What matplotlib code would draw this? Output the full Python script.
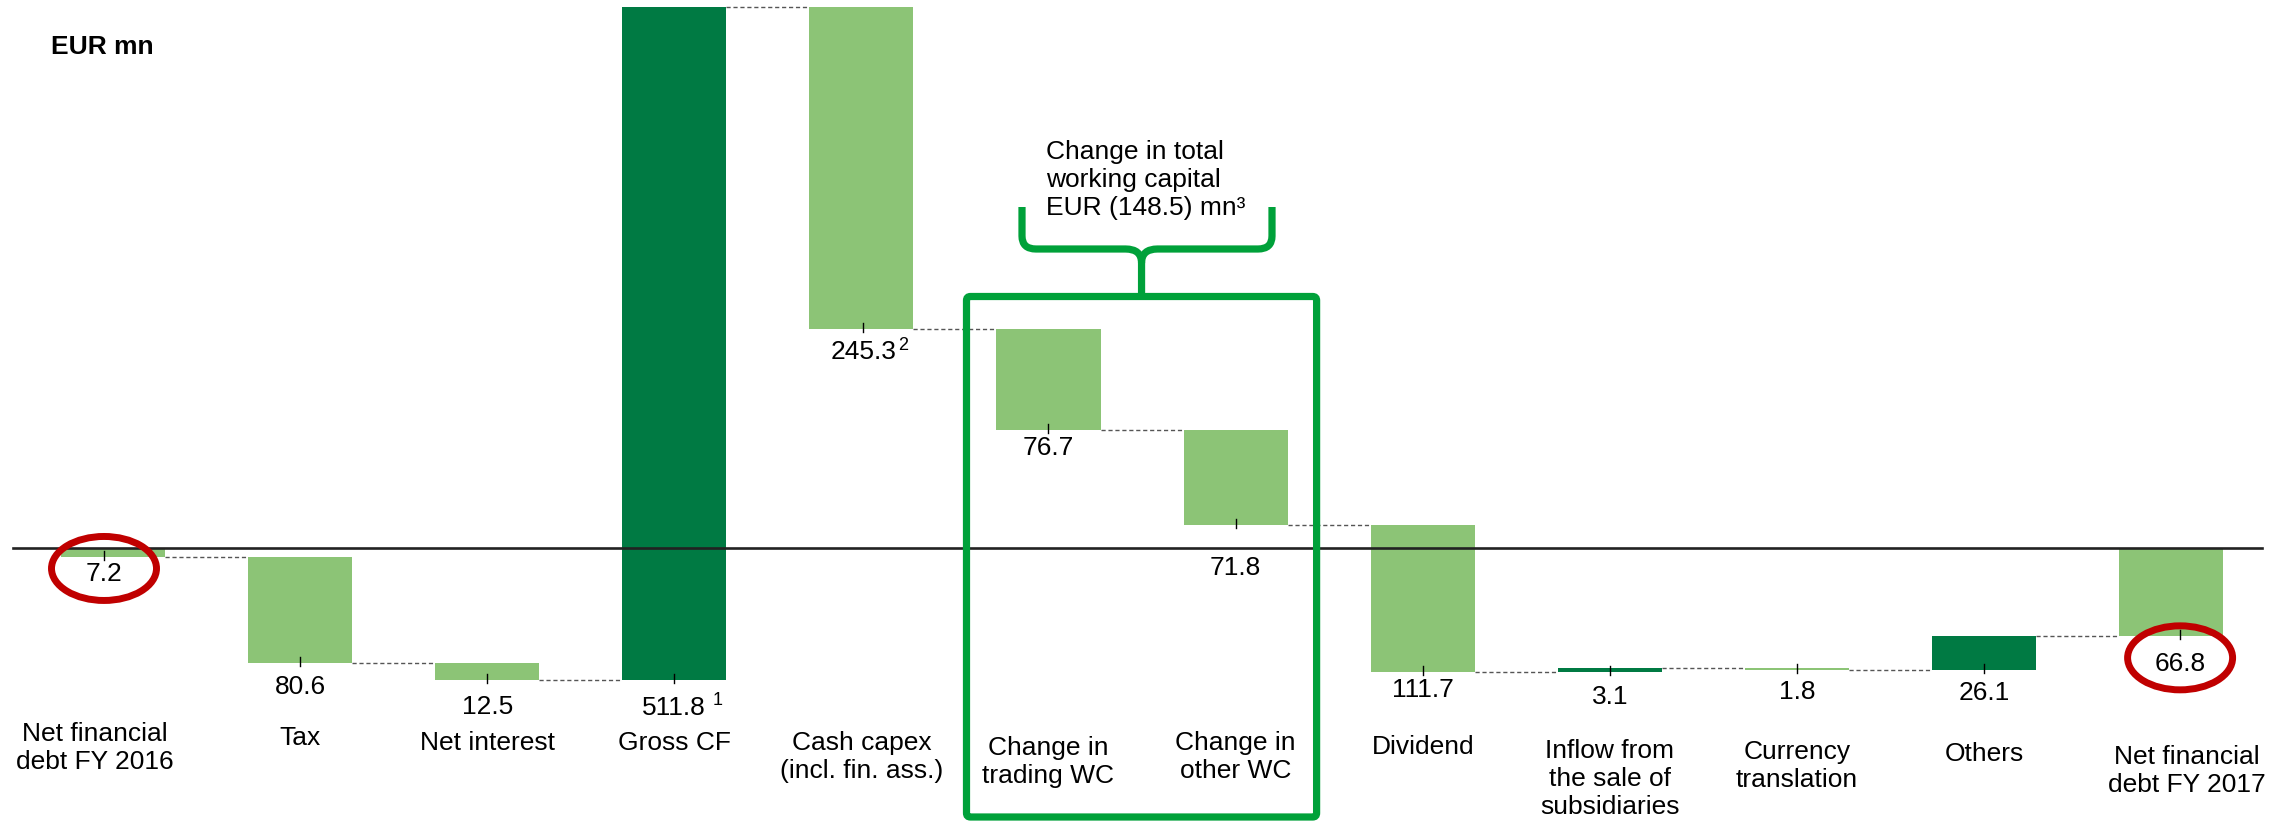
import matplotlib
matplotlib.use('Agg')
import matplotlib.pyplot as plt
import numpy as np
from matplotlib.patches import Ellipse, FancyBboxPatch, PathPatch
from matplotlib.path import Path

plt.rcParams['font.family'] = ['Liberation Sans', 'DejaVu Sans']

# ---------------- data ----------------
categories = ["Net financial\ndebt FY 2016", "Tax", "Net interest", "Gross CF",
              "Cash capex\n(incl. fin. ass.)", "Change in\ntrading WC", "Change in\nother WC",
              "Dividend", "Inflow from\nthe sale of\nsubsidiaries", "Currency\ntranslation",
              "Others", "Net financial\ndebt FY 2017"]
values = [-7.2, -80.6, -12.5, 511.8, -245.3, -76.7, -71.8, -111.7, 3.1, -1.8, 26.1, -66.8]
kinds = ["total", "delta", "delta", "delta", "delta", "delta", "delta",
         "delta", "delta", "delta", "delta", "total"]
value_labels = ["7.2", "80.6", "12.5", "511.8", "245.3", "76.7", "71.8",
                "111.7", "3.1", "1.8", "26.1", "66.8"]
footnotes = ["", "", "", "1", "2", "", "", "", "", "", "", ""]
unit_label = "EUR mn"
wc_note = "Change in total\nworking capital\nEUR (148.5) mn\u00b3"
highlighted = [0, 11]
wc_group = [5, 6]

# ---------------- layout / style ----------------
W, H = 2291, 824
DARK = "#007A43"
LIGHT = "#8CC476"
BOXG = "#00A13A"
RED = "#C00000"
FS = 19
label_offsets = [17, 24, 27, 28, 23, 18, 43, 18, 25, 22, 23, 28]      # px below bar bottom
label_dx = [-9, 0, 0, 0, 2, 0, 0, 0, 0, 0, 0, 9]                      # px
sup_dx = {3: 38, 4: 35}
cat_centers = [748, 738, 743, 743, 757, 762, 757, 747, 779, 766, 754, 771]  # px
cat_dx = [-18, 0, 0, 0, 0, 0, 0, 0, 0, 0, 0, 16]

fig = plt.figure(figsize=(W / 100, H / 100), dpi=100)
ax = fig.add_axes([0, 0, 1, 1])
ax.set_xlim(-113 / 187.1, (W - 113) / 187.1)
ax.set_ylim(-(H - 548) / 1.315, 548 / 1.315)
ax.axis('off')

ov = fig.add_axes([0, 0, 1, 1], zorder=3)
ov.set_xlim(0, W)
ov.set_ylim(H, 0)
ov.axis('off')
ov.patch.set_alpha(0)


def px(x, v):
    dx, dy = ax.transData.transform((x, v))
    return dx, H - dy


# ---------------- waterfall geometry ----------------
n = len(values)
xs = np.arange(n)
starts, ends = [], []
running = 0.0
for v, k in zip(values, kinds):
    if k == "total":
        s, e = 0.0, v
    else:
        s, e = running, running + v
    starts.append(s)
    ends.append(e)
    running = e
starts = np.array(starts)
ends = np.array(ends)
bottoms = np.minimum(starts, ends)
heights = np.abs(ends - starts)
colors = [DARK if (k == "delta" and v > 0) else LIGHT for v, k in zip(values, kinds)]

bw = 0.556
ax.bar(xs, heights, bottom=bottoms, width=bw, color=colors, zorder=2, linewidth=0)

# zero line
ax.axhline(0, xmin=13 / W, xmax=2262 / W, color="#222222", lw=1.9, zorder=3)

# connectors
for i in range(n - 1):
    ax.plot([xs[i] + bw / 2, xs[i + 1] - bw / 2], [ends[i], ends[i]],
            ls=(0, (3, 2)), color="#555555", lw=1.0, zorder=1)

# ticks, value labels, category labels
label_pos = []
for i in range(n):
    xc, yb = px(xs[i], bottoms[i])
    lx = xc + label_dx[i]
    ov.plot([lx, lx], [yb - 6, yb + 3], color="black", lw=1.0)
    ly = yb + label_offsets[i]
    label_pos.append((lx, ly))
    ov.text(lx, ly, value_labels[i], ha='center', va='center', fontsize=FS)
    if footnotes[i]:
        ov.text(lx + sup_dx[i], ly - 7, footnotes[i], ha='left', va='center', fontsize=13)
    ov.text(xc + cat_dx[i], cat_centers[i], categories[i], ha='center', va='center',
            fontsize=FS, linespacing=1.2)

# red highlight ellipses
for i in highlighted:
    cx, cy = label_pos[i]
    ov.add_patch(Ellipse((cx, cy - 6), 105, 64, fill=False, ec=RED, lw=5.0))

# unit label
ov.text(51, 47, unit_label, fontweight='bold', fontsize=FS, ha='left', va='center')

# working capital box
left = px(xs[wc_group[0]], 0)[0] - 82
right = px(xs[wc_group[1]], 0)[0] + 81
ov.add_patch(FancyBboxPatch((left, 296.5), right - left, 520.5,
                            boxstyle="round,pad=0,rounding_size=4",
                            fill=False, ec=BOXG, lw=5.2))

# brace
mid = (left + right) / 2
bl, br = 1022, 1272
verts = [(bl, 207), (bl, 236), (bl, 249), (bl + 14, 249), (mid - 16, 249),
         (mid, 249), (mid, 263), (mid, 294)]
codes = [Path.MOVETO, Path.LINETO, Path.CURVE3, Path.CURVE3, Path.LINETO,
         Path.CURVE3, Path.CURVE3, Path.LINETO]
ov.add_patch(PathPatch(Path(verts, codes), fill=False, ec=BOXG, lw=5.2,
                       capstyle='butt', joinstyle='round'))
verts2 = [(br, 207), (br, 236), (br, 249), (br - 14, 249), (mid + 16, 249),
          (mid, 249), (mid, 263)]
codes2 = [Path.MOVETO, Path.LINETO, Path.CURVE3, Path.CURVE3, Path.LINETO,
          Path.CURVE3, Path.CURVE3]
ov.add_patch(PathPatch(Path(verts2, codes2), fill=False, ec=BOXG, lw=5.2,
                       capstyle='butt', joinstyle='round'))

ov.text(1046, 180, wc_note, ha='left', va='center', fontsize=FS, linespacing=1.21)

fig.savefig("out.png", dpi=100)
